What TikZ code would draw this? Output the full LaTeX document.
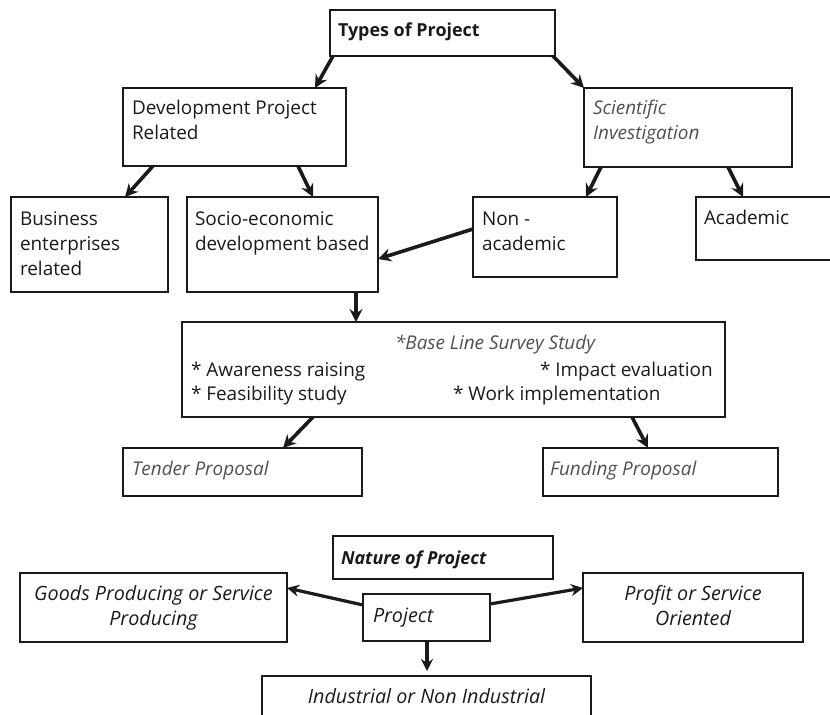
\documentclass[tikz,border=0pt]{standalone}
\usepackage{fontspec}
\setmainfont{Open Sans}
\usetikzlibrary{arrows.meta,calc}

\definecolor{ink}{HTML}{1A1A1A}
\definecolor{soft}{HTML}{505050}

% text stacks: first baseline is the node's base, 25bp between lines
\newcommand{\stackL}[1]{\vtop{\baselineskip=25bp\halign{##\hfil\cr#1\cr}}}
\newcommand{\stackC}[1]{\vtop{\baselineskip=25bp\halign{\hfil##\hfil\cr#1\cr}}}

% empty framed box from its top-left to its bottom-right corner
\newcommand{\projbox}[5]{%
  \node[box, anchor=north west,
        minimum width={(#4-#2)*1bp}, minimum height={(#5-#3)*1bp}] (#1) at (#2,#3) {};}

\tikzset{
  box/.style={draw=ink, line width=1.6bp, rectangle, inner sep=0pt, outer sep=0pt},
  txt/.style={inner sep=0pt, outer sep=0pt, anchor=base west, text=ink,
              font=\fontsize{19}{25}\selectfont},
  softtxt/.style={txt, text=soft, font=\fontsize{19}{25}\selectfont\itshape},
  headtxt/.style={txt, font=\fontsize{18}{25}\selectfont\bfseries},
  lowtxt/.style={txt, anchor=base, font=\fontsize{19.8}{25}\selectfont\itshape},
  arr/.style={draw=ink, line width=3.6bp,
              -{Stealth[length=13bp, width=13bp, inset=4.5bp]}},
  arrlow/.style={draw=ink, line width=3.2bp,
              -{Stealth[length=12bp, width=12bp, inset=4bp]}},
}

\begin{document}
\begin{tikzpicture}[x=1bp, y=-1bp]
\useasboundingbox (0,0) rectangle (830,715);

% ---------- Types of Project ----------
\projbox{types}{330}{10}{555}{56}
\projbox{dev}{123}{88}{346}{166}
\projbox{sci}{584}{88}{792}{167}
\projbox{bus}{11}{197}{168}{292}
\projbox{soc}{187}{197}{378}{292}
\projbox{non}{473}{197}{617}{277}
\projbox{aca}{696}{197}{840}{260}
\projbox{base}{182}{322}{725}{417}
\projbox{tender}{123}{448}{362}{496}
\projbox{fund}{543}{448}{778}{496}

\node[headtxt] (typesT) at (338,37) {Types of Project};
\node[txt] (devT) at (132,115) {\stackL{Development Project\cr Related}};
\node[softtxt] (sciT) at (593,115) {\stackL{Scientific\cr Investigation}};
\node[txt] (busT) at (20,225) {\stackL{Business\cr enterprises\cr related}};
\node[txt] (socT) at (195,225) {\stackL{Socio-economic\cr development based}};
\node[txt] (nonT) at (482,225) {\stackL{Non -\cr academic}};
\node[txt] (acaT) at (704,224) {Academic};
\node[softtxt] (baseT) at (395,349) {*Base Line Survey Study};
\node[txt] (awareT) at (191,376) {* Awareness raising};
\node[txt] (impactT) at (540,376) {* Impact evaluation};
\node[txt] (feasT) at (191,400) {* Feasibility study};
\node[txt] (workT) at (453,400) {* Work implementation};
\node[softtxt] (tenderT) at (132,475) {Tender Proposal};
\node[softtxt] (fundT) at (550,475) {Funding Proposal};

\draw[arr] ($(types.south west)+(3,0)$) -- ($(dev.north west)+(192,0)$);
\draw[arr] ($(types.south east)+(-2,0)$) -- (sci.north west);
\draw[arr] ($(dev.south west)+(30,0)$) -- ($(bus.north west)+(114,0)$);
\draw[arr] ($(dev.south west)+(175,0)$) -- ($(soc.north west)+(126,0)$);
\draw[arr] ($(sci.south west)+(17,0)$) -- ($(non.north west)+(113,0)$);
\draw[arr] ($(sci.south west)+(144,0)$) -- ($(aca.north west)+(47,0)$);
\draw[arr] ($(non.north west)+(0,32)$) -- ($(soc.north east)+(0,62)$);
\draw[arr] ($(soc.south west)+(169,0)$) -- ($(base.north west)+(174,0)$);
\draw[arr] ($(base.south west)+(131,0)$) -- ($(tender.north west)+(160,0)$);
\draw[arr] ($(base.south west)+(450,0)$) -- ($(fund.north west)+(105,0)$);

% ---------- Nature of Project ----------
\projbox{nature}{333}{536}{553}{579}
\projbox{goods}{20}{573}{287}{642}
\projbox{project}{363}{594}{490}{641}
\projbox{profit}{583}{573}{803}{642}
\projbox{indus}{262}{676}{591}{730}

\node[txt, font=\fontsize{18}{25}\selectfont\bfseries\itshape] (natureT) at (341,564) {Nature of Project};
\node[lowtxt] (goodsT) at (153.5,600) {\stackC{Goods Producing or Service\cr Producing}};
\node[lowtxt, anchor=base west] (projectT) at (373,622) {Project};
\node[lowtxt] (profitT) at (693,600) {\stackC{Profit or Service\cr Oriented}};
\node[lowtxt] (indusT) at (426.5,703) {Industrial or Non Industrial};

\draw[arrlow] ($(project.north west)+(0,11)$) -- ($(goods.north east)+(0,15)$);
\draw[arrlow] ($(project.north east)+(0,10)$) -- ($(profit.north west)+(0,15)$);
\draw[arrlow] ($(project.south west)+(64,0)$) -- ($(indus.north west)+(165,-5)$);
\end{tikzpicture}
\end{document}
